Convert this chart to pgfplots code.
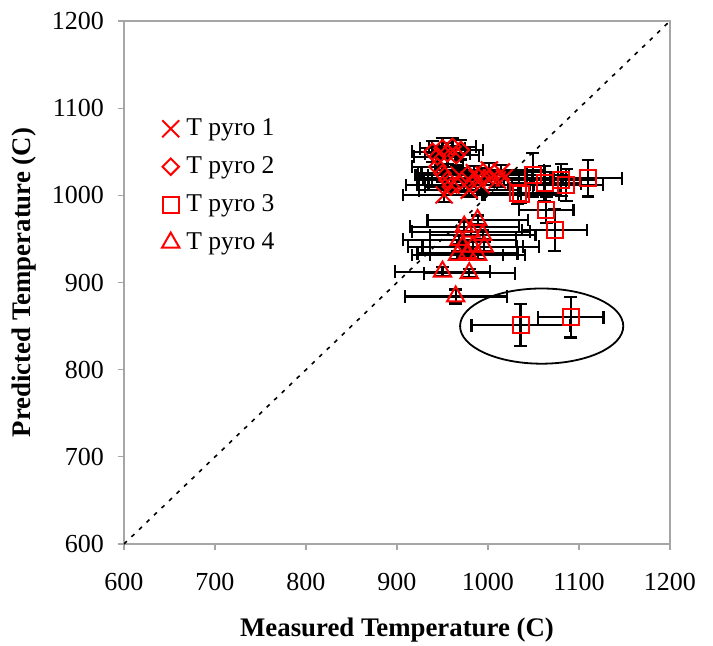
\documentclass[border=0pt]{standalone}
\usepackage{fontspec}
\setmainfont{Liberation Serif}
\usepackage{pgfplots}
\pgfplotsset{compat=1.18}

% pyrometer series: x y ex ey
\pgfplotstableread{
x y ex ey
951.8 1000.5 45 8
959.5 1011.9 50 8
968.4 1023.4 48 8
974.0 1012.0 52 8
979.4 1017.7 55 8
985.0 1026.0 58 8
988.2 1020.0 60 8
996.0 1023.4 62 8
1003.7 1020.0 65 8
1010.3 1017.7 60 8
992.6 1011.9 58 8
979.4 1006.0 55 8
1014.7 1026.8 62 8
1001.5 1029.1 60 8
1018.0 1020.0 64 8
}\pyroA
\pgfplotstableread{
x y ex ey
938.9 1050.1 22 12
950.0 1054.0 25 12
961.0 1055.8 26 10
970.2 1052.1 24 11
944.4 1044.4 26 12
955.5 1048.3 25 12
965.0 1046.0 25 11
944.4 1032.9 28 10
950.0 1025.3 27 10
955.5 1017.7 26 10
959.2 1010.0 28 10
}\pyroB
\pgfplotstableread{
x y ex ey
1109.9 1019.6 37 21
1049.2 1023.4 40 25
1032.7 1002.4 45 12
1036.0 1001.0 42 10
1064.0 983.3 30 15
1062.1 1013.9 40 20
1080.5 1017.7 38 18
1086.0 1011.9 40 18
1073.2 960.3 36 24
1035.8 851.0 54 24
1091.0 860.0 36 23
}\pyroC
\pgfplotstableread{
x y ex ey
973.9 964.1 60 5
988.6 971.8 55 5
981.3 958.4 65 5
994.1 954.6 58 5
968.4 948.9 62 5
983.1 941.1 55 5
996.0 941.1 60 5
966.5 931.6 50 5
977.5 933.6 55 5
988.6 931.6 52 5
972.0 941.1 60 5
950.0 912.5 52 5
979.4 910.7 50 5
964.5 884.0 56 8
}\pyroD

\begin{document}
\begin{tikzpicture}
\path[use as bounding box] (-62pt,-50.5pt) rectangle (294.5pt,272pt);
\begin{axis}[
  scale only axis,
  width=273pt, height=261.5pt,
  xmin=600, xmax=1200, ymin=600, ymax=1200,
  xtick={600,700,...,1200}, ytick={600,700,...,1200},
  xtick pos=left, ytick pos=left,
  tick align=outside,
  major tick length=3pt,
  axis line style={gray!70, line width=0.8pt},
  every tick/.style={gray!70, line width=0.6pt},
  /pgf/number format/assume math mode=true,
  /pgf/number format/1000 sep={},
  ticklabel style={font=\fontsize{13}{15}\selectfont},
  xticklabel style={yshift=-8pt},
  yticklabel style={xshift=-3.5pt},
  every axis x label/.style={at={(axis description cs:0.5,0)}, yshift=-43pt, anchor=center},
  every axis y label/.style={at={(axis description cs:0,0.5)}, xshift=-50pt, rotate=90, anchor=center},
  label style={font=\fontsize{13.4}{15}\selectfont\bfseries},
  xlabel={Measured Temperature (C)},
  ylabel={Predicted Temperature (C)},
  legend style={draw=none, fill=none, at={(0.058,0.829)}, anchor=north west,
    font=\fontsize{12.8}{15}\selectfont, row sep=5pt,
    /tikz/every odd column/.append style={column sep=1.5pt}},
  legend cell align=left,
  error bars/error bar style={black, line width=1.1pt},
  error bars/error mark options={black, line width=1.1pt, mark size=3.2pt, rotate=90},
]
\addplot[black, dash pattern=on 2pt off 3.2pt, line width=0.8pt, forget plot]
  coordinates {(600,600) (1200,1200)};

\addplot[only marks, mark=x, mark size=6pt, mark options={red, line width=1pt},
  error bars/.cd, x dir=both, x explicit, y dir=both, y explicit]
  table[x=x, y=y, x error=ex, y error=ey]{\pyroA};
\addlegendentry{T pyro 1}
\addplot[only marks, mark=square, mark size=2.9pt, mark options={red, line width=1pt, fill=none, rotate=45},
  error bars/.cd, x dir=both, x explicit, y dir=both, y explicit]
  table[x=x, y=y, x error=ex, y error=ey]{\pyroB};
\addlegendentry{T pyro 2}
\addplot[only marks, mark=square, mark size=4pt, mark options={red, line width=1pt, fill=none},
  error bars/.cd, x dir=both, x explicit, y dir=both, y explicit]
  table[x=x, y=y, x error=ex, y error=ey]{\pyroC};
\addlegendentry{T pyro 3}
\addplot[only marks, mark=triangle, mark size=5pt, mark options={red, line width=1pt, fill=none},
  error bars/.cd, x dir=both, x explicit, y dir=both, y explicit]
  table[x=x, y=y, x error=ex, y error=ey]{\pyroD};
\addlegendentry{T pyro 4}

\draw[black, line width=0.9pt] (axis cs:1059,850) ellipse [x radius=40.8pt, y radius=18.8pt];
\end{axis}
\end{tikzpicture}
\end{document}
